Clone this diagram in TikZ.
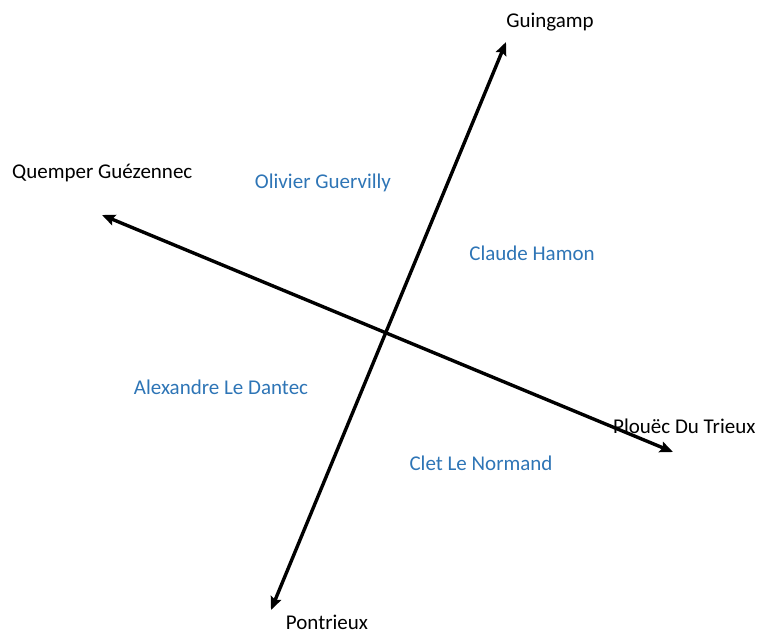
\documentclass[tikz,border=0pt]{standalone}
\usepackage{fontspec}
\setmainfont{Carlito}
\usetikzlibrary{arrows.meta}
\definecolor{lblblue}{HTML}{2E75B6}
\begin{document}
\begin{tikzpicture}[x=1pt,y=-1pt,
  axis/.style={line width=3.4pt,{Stealth[length=13pt,width=11pt,inset=2pt]}-{Stealth[length=13pt,width=11pt,inset=2pt]}},
  place/.style={font=\fontsize{21}{24}\selectfont,text=black,inner sep=0pt},
  person/.style={font=\fontsize{21}{24}\selectfont,text=lblblue,inner sep=0pt}]
\useasboundingbox (0,0) rectangle (760,633);
\coordinate (n) at (506,42);
\coordinate (s) at (271,610);
\coordinate (w) at (102,215);
\coordinate (e) at (673,452);
\draw[axis] (s) -- (n);
\draw[axis] (w) -- (e);
\node[place] (guingamp) at (550,22) {Guingamp};
\node[place,anchor=west] (quemper) at (12,173) {Quemper Guézennec};
\node[place,anchor=west] (plouec) at (613,426) {Plouëc Du Trieux};
\node[place] (pontrieux) at (327,622) {Pontrieux};
\node[person] (olivier) at (323,183) {Olivier Guervilly};
\node[person] (claude) at (532,253) {Claude Hamon};
\node[person] (alexandre) at (221,387) {Alexandre Le Dantec};
\node[person] (clet) at (481,463) {Clet Le Normand};
\end{tikzpicture}
\end{document}
